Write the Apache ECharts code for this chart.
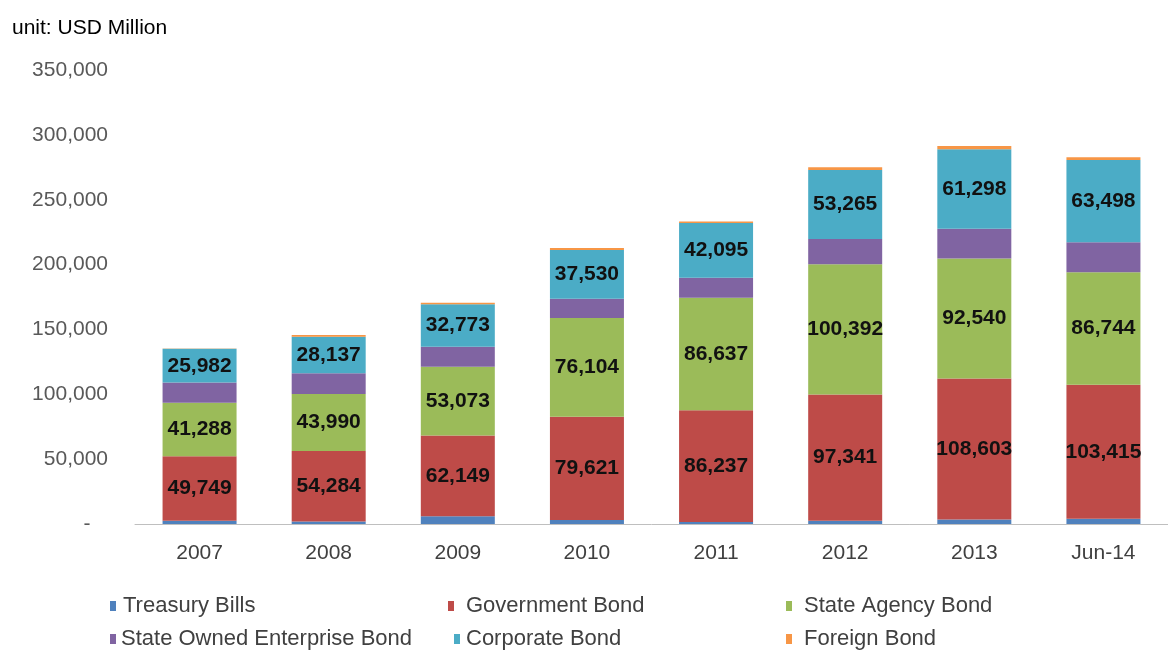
<!DOCTYPE html>
<html>
<head>
<meta charset="utf-8">
<title>Bond outstanding</title>
<script src="https://cdn.jsdelivr.net/npm/echarts@6/dist/echarts.min.js"></script>
<style>
    html, body {
        margin: 0;
        padding: 0;
        background: #fff;
    }
    #bond-stack-chart {
        width: 1168px;
        height: 653px;
    }
</style>
</head>
<body>
<div id="bond-stack-chart"></div>
<script>
// data (small segments estimated)
var categories = ['2007', '2008', '2009', '2010', '2011', '2012', '2013', 'Jun-14'];
var treasuryBills = [2500, 2000, 6000, 3000, 1500, 2500, 3500, 4000];
var governmentBond = [49749, 54284, 62149, 79621, 86237, 97341, 108603, 103415];
var stateAgencyBond = [41288, 43990, 53073, 76104, 86637, 100392, 92540, 86744];
var soeBond = [15500, 16000, 15500, 15000, 15500, 19500, 23000, 23000];
var corporateBond = [25982, 28137, 32773, 37530, 42095, 53265, 61298, 63498];
var foreignBond = [300, 1300, 1000, 1500, 1300, 2000, 2500, 2000];
var yTicks = [0, 50000, 100000, 150000, 200000, 250000, 300000, 350000];

var colors = ['#4f81bd', '#be4b48', '#9bbb59', '#8064a2', '#4bacc6', '#f79646'];
var fontFamily = '"Liberation Sans", Arial, sans-serif';

function fmt(v) {
    return Number(v).toLocaleString('en-US');
}

var valueLabel = {
    show: true,
    position: 'inside',
    color: '#111',
    fontFamily: fontFamily,
    fontWeight: 'bold',
    fontSize: 21,
    formatter: function (p) {
        return fmt(p.value);
    }
};

function barSeries(name, data, withLabel) {
    return {
        name: name,
        type: 'bar',
        stack: 'total',
        barWidth: 74,
        data: data,
        label: withLabel ? valueLabel : { show: false }
    };
}

// one legend per item so the columns sit where the original has them
function legendItem(name, left, top, textGap) {
    return {
        data: [name],
        left: left,
        top: top,
        itemWidth: 6,
        itemHeight: 10,
        icon: 'rect',
        selectedMode: false,
        textStyle: {
            color: '#404040',
            fontFamily: fontFamily,
            fontSize: 22,
            padding: [0, 0, 0, textGap]
        }
    };
}

var chart = echarts.init(document.getElementById('bond-stack-chart'));
chart.setOption({
    color: colors,
    animation: false,
    title: {
        text: 'unit: USD Million',
        left: 7,
        top: 13,
        textStyle: {
            color: '#000',
            fontFamily: fontFamily,
            fontWeight: 'normal',
            fontSize: 21
        }
    },
    legend: [
        legendItem('Treasury Bills', 105, 590, 2),
        legendItem('Government Bond', 443, 590, 7),
        legendItem('State Agency Bond', 781, 590, 7),
        legendItem('State Owned Enterprise Bond', 105, 623, 0),
        legendItem('Corporate Bond', 449, 623, 1),
        legendItem('Foreign Bond', 781, 623, 7)
    ],
    grid: {
        top: 70,
        bottom: 129,
        left: 135,
        right: -13
    },
    xAxis: {
        type: 'category',
        data: categories,
        axisTick: { show: false },
        axisLine: {
            lineStyle: { color: '#bfbfbf', width: 1 }
        },
        axisLabel: {
            color: '#404040',
            fontFamily: fontFamily,
            fontSize: 21,
            margin: 19
        }
    },
    yAxis: {
        type: 'value',
        min: yTicks[0],
        max: yTicks[yTicks.length - 1],
        interval: yTicks[1] - yTicks[0],
        splitLine: { show: false },
        axisLine: { show: false },
        axisTick: { show: false },
        axisLabel: {
            color: '#595959',
            fontFamily: fontFamily,
            fontSize: 21,
            margin: 27,
            formatter: function (v) {
                return v === 0 ? '-   ' : fmt(v);
            }
        }
    },
    series: [
        barSeries('Treasury Bills', treasuryBills, false),
        barSeries('Government Bond', governmentBond, true),
        barSeries('State Agency Bond', stateAgencyBond, true),
        barSeries('State Owned Enterprise Bond', soeBond, false),
        barSeries('Corporate Bond', corporateBond, true),
        barSeries('Foreign Bond', foreignBond, false)
    ]
});
</script>
</body>
</html>
